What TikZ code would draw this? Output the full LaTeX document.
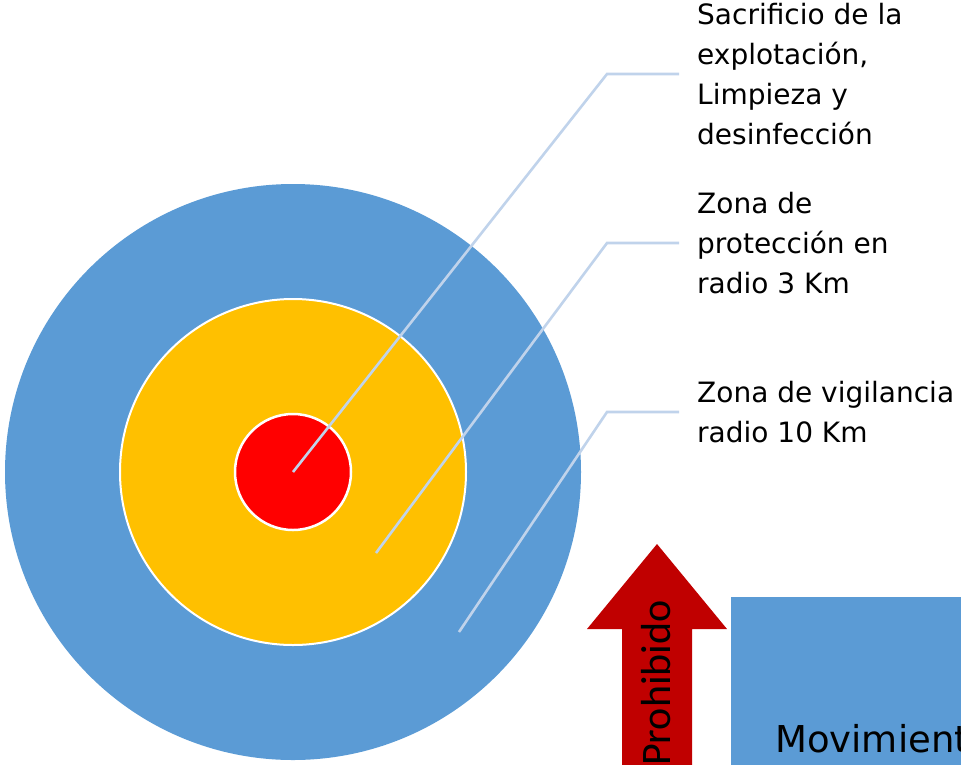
\documentclass[tikz,border=0pt]{standalone}
\usepackage{fontspec}
\setmainfont{DejaVu Sans}
\newfontfamily\calibri{Carlito}
\usepackage{tikz}
\usetikzlibrary{positioning}
\definecolor{zoneblue}{HTML}{5B9BD5}
\definecolor{zoneorange}{HTML}{FFC000}
\definecolor{zonered}{HTML}{FF0000}
\definecolor{darkred}{HTML}{C00000}
\definecolor{leadercol}{RGB}{192,211,235}
\tikzset{
  zone/.style={circle, inner sep=0pt, draw=white},
  leader/.style={draw=leadercol, line width=2.6pt},
  lbl/.style={align=left, inner xsep=18pt, inner ysep=0pt, anchor=west,
    font=\fontsize{28}{40}\selectfont}
}
\begin{document}
\begin{tikzpicture}[x=1pt, y=-1pt]
  \useasboundingbox (0,0) rectangle (961,764);
  \clip (0,0) rectangle (961,764);
  % Zones
  \node[zone, fill=zoneblue, minimum size=576pt, draw=none] (vig) at (293,472) {};
  \node[zone, fill=zoneorange, minimum size=346pt, line width=2pt] (prot) at (293,472) {};
  \node[zone, fill=zonered, minimum size=116pt, line width=2.5pt] (foco) at (293,472) {};

  % Labels
  \node[lbl] (sacr) at (679,74) {Sacrificio de la\\explotación,\\Limpieza y\\desinfección};
  \node[lbl] (protl) at (679,243) {Zona de\\protección en\\radio 3 Km};
  \node[lbl] (vigl) at (679,412) {Zona de vigilancia\\radio 10 Km};

  % Leaders
  \coordinate (d1) at (foco.center);
  \coordinate (d2) at (376,553);
  \coordinate (d3) at (459,632);
  \draw[leader] (d1) -- ([xshift=-72pt]sacr.west) -- (sacr.west);
  \draw[leader] (d2) -- ([xshift=-72pt]protl.west) -- (protl.west);
  \draw[leader] (d3) -- ([xshift=-72pt]vigl.west) -- (vigl.west);

  % Movement
  \fill[darkred] (657,544) -- (727,629) -- (692,629) -- (692,780) -- (622,780)
    -- (622,629) -- (587,629) -- cycle;
  \node[rotate=90, anchor=base west, inner sep=0pt,
    font=\calibri\fontsize{42}{42}\selectfont] (proh) at (670,766) {Prohibido};
  \fill[zoneblue] (731,597) rectangle (980,780);
  \node[anchor=base west, inner sep=0pt, font=\fontsize{37}{37}\selectfont]
    (mov) at (775,752) {Movimiento};
\end{tikzpicture}
\end{document}
